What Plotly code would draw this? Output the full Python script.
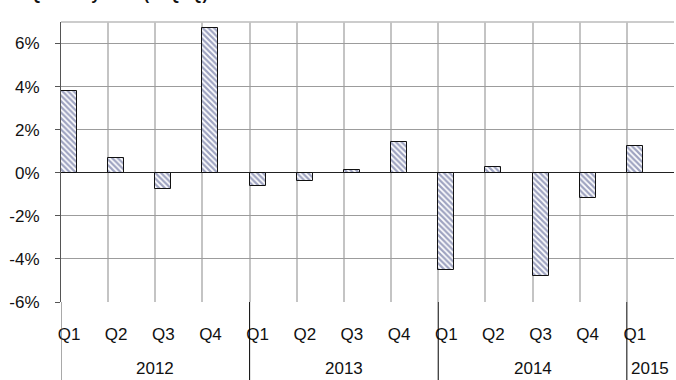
import plotly.graph_objects as go

# Quarterly growth rates (%)
quarters = ["Q1", "Q2", "Q3", "Q4", "Q1", "Q2", "Q3", "Q4", "Q1", "Q2", "Q3", "Q4", "Q1"]
growth = [3.8, 0.7, -0.75, 6.7, -0.62, -0.4, 0.15, 1.45, -4.5, 0.25, -4.8, -1.17, 1.25]
years = ["2012", "2013", "2014", "2015"]
year_start = [0, 4, 8, 12]
year_end = [4, 8, 12, 13]
y_ticks = [-6, -4, -2, 0, 2, 4, 6]

n = len(quarters)
bar_w = 0.34
# each bar sits at the left side of its quarter slot
bar_x = [i + bar_w / 2 for i in range(n)]

fig = go.Figure()
fig.add_trace(go.Bar(
    x=bar_x,
    y=growth,
    width=bar_w,
    marker=dict(
        color="white",
        line=dict(color="#111111", width=1),
        pattern=dict(shape="\\", fgcolor="#3d4782", bgcolor="white",
                     size=4, solidity=0.55),
    ),
    hoverinfo="skip",
))

font = "Liberation Sans, Arial, sans-serif"

shapes = []
# year separators below the plot
for xs in year_start[1:]:
    shapes.append(dict(type="line", xref="x", yref="paper", x0=xs, x1=xs,
                       y0=0, y1=-0.285, line=dict(color="#000000", width=1)))
shapes.append(dict(type="line", xref="x", yref="paper", x0=0, x1=0,
                   y0=0, y1=-0.285, line=dict(color="#555555", width=1)))
# top border
shapes.append(dict(type="line", xref="paper", yref="paper", x0=0, x1=1,
                   y0=1, y1=1, line=dict(color="#999999", width=1), layer="below"))

annotations = []
for yr, a, b in zip(years, year_start, year_end):
    annotations.append(dict(x=(a + b) / 2, xref="x", y=-0.237, yref="paper",
                            text=yr, showarrow=False, xanchor="center", yanchor="middle",
                            font=dict(family=font, size=17, color="#111111")))
annotations.append(dict(x=-0.056, xref="paper", y=1.06, yref="paper",
                        text="<b>Quarterly Rate (% QoQ)</b>", showarrow=False,
                        xanchor="left", yanchor="bottom",
                        font=dict(family=font, size=16, color="#111111")))

fig.update_layout(
    width=676, height=380,
    margin=dict(l=61, r=2, t=22, b=78),
    paper_bgcolor="white", plot_bgcolor="white",
    showlegend=False,
    shapes=shapes,
    annotations=annotations,
    xaxis=dict(
        range=[0, n],
        tickmode="array",
        tickvals=bar_x,
        ticktext=quarters,
        showgrid=False,
        ticks="",
        ticklabelstandoff=20,
        tickfont=dict(family=font, size=17, color="#111111"),
        zeroline=False,
        minor=dict(tickmode="linear", tick0=0, dtick=1, showgrid=True,
                   gridcolor="#c4c4c4", gridwidth=1.5, ticks=""),
        fixedrange=True,
    ),
    yaxis=dict(
        range=[-6, 7],
        tickvals=y_ticks,
        ticktext=[f"{v}%" for v in y_ticks],
        showgrid=True,
        gridcolor="#9c9c9c",
        gridwidth=1,
        ticks="outside",
        ticklen=5,
        tickcolor="#555555",
        showline=True,
        linecolor="#555555",
        linewidth=1,
        zeroline=True,
        zerolinecolor="#222222",
        zerolinewidth=1,
        tickfont=dict(family=font, size=17, color="#111111"),
        ticklabelstandoff=12,
        fixedrange=True,
    ),
    bargap=0,
)

fig.write_html("out.html")
